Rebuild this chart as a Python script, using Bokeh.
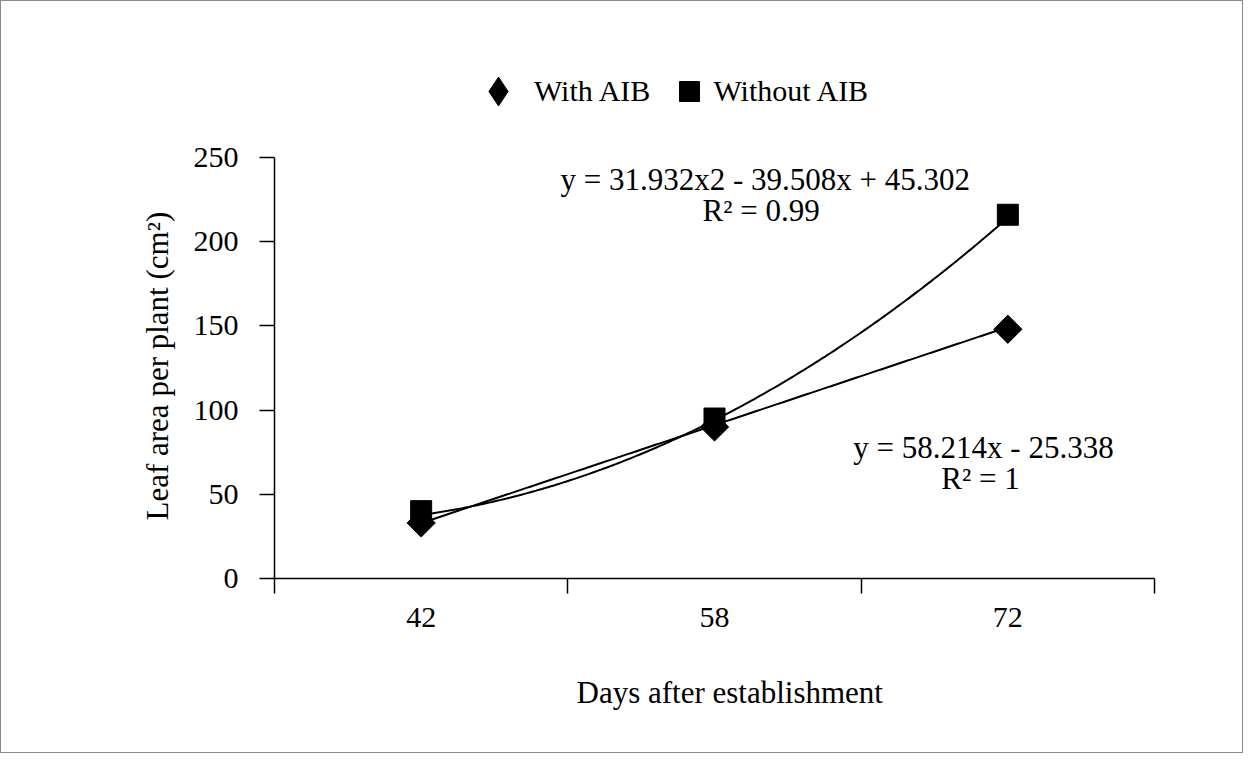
import numpy as np
from bokeh.plotting import figure
from bokeh.models import Range1d, FixedTicker, Legend, LegendItem, Label, Title
from bokeh.embed import file_html
from bokeh.resources import INLINE

# ---- data ----
categories = ["42", "58", "72"]
with_aib = [33, 90, 148]
without_aib = [40, 95, 216]
lin_coef = [58.214, -25.338]              # y = 58.214x - 25.338
quad_coef = [31.932, -39.508, 45.302]     # y = 31.932x2 - 39.508x + 45.302
y_ticks = [0, 50, 100, 150, 200, 250]
eq_with = ["y = 58.214x - 25.338", "R² = 1"]
eq_without = ["y = 31.932x2 - 39.508x + 45.302", "R² = 0.99"]
x_title = "Days after establishment"
y_title = "Leaf area per plant (cm²)"

xpos = list(range(1, len(categories) + 1))
FONT = "Liberation Serif"

Y_MAX_AXIS = 250
FRAME_H = 530          # frame extended upward to host the legend
AXIS_H = 421           # pixel height of the 0-250 axis
y_top = Y_MAX_AXIS * FRAME_H / AXIS_H

p = figure(width=1243, height=753, output_backend="svg", toolbar_location=None,
           x_range=Range1d(0.5, len(categories) + 0.5), y_range=Range1d(0, y_top),
           min_border_left=273, min_border_right=90, min_border_top=47,
           min_border_bottom=176)
p.styles = {"border": "1px solid #8a8a8a"}
p.outline_line_color = None
p.grid.visible = False
p.background_fill_color = "white"
p.border_fill_color = "white"

# trendlines
xs = np.linspace(1, len(categories), 200)
p.line(xs, np.polyval(quad_coef, xs), line_color="black", line_width=2)
p.line(xs, np.polyval(lin_coef, xs), line_color="black", line_width=2)

# markers
p.scatter(xpos, with_aib, marker="square", size=20, angle=np.pi / 4,
          color="black")
p.scatter(xpos, without_aib, marker="square", size=21, color="black")

# legend proxies (single NaN point: invisible in the plot, drawn in legend)
r_d = p.scatter([np.nan], [np.nan], marker="diamond", color="black")
r_s = p.scatter([np.nan], [np.nan], marker="square", color="black")

def mk_legend(item, r, gsize, loc):
    lg = Legend(items=[LegendItem(label=item, renderers=[r])],
                location=loc, orientation="horizontal",
                glyph_width=gsize, glyph_height=gsize,
                label_standoff=0, padding=0, margin=0, spacing=0,
                label_text_font=FONT, label_text_font_size="30px",
                label_text_color="black",
                background_fill_alpha=0, border_line_alpha=0)
    p.add_layout(lg)

mk_legend("With AIB", r_d, 72, (188, 451))
mk_legend("Without AIB", r_s, 50, (389.5, 462))

# axes
xa = p.xaxis[0]
xa.ticker = FixedTicker(ticks=xpos, minor_ticks=[i + 0.5 for i in range(len(categories) + 1)])
xa.major_label_overrides = {i + 1: c for i, c in enumerate(categories)}
xa.major_tick_out = 0
xa.major_tick_in = 0
xa.minor_tick_out = 15
xa.minor_tick_in = 0
xa.major_label_standoff = 14

ya = p.yaxis[0]
ya.bounds = (0, Y_MAX_AXIS)
ya.ticker = FixedTicker(ticks=y_ticks)
ya.major_tick_out = 15
ya.major_tick_in = 0
ya.minor_tick_out = 0
ya.minor_tick_in = 0
ya.major_label_standoff = 21

for ax in (xa, ya):
    ax.axis_line_color = "black"
    ax.axis_line_width = 1.5
    ax.major_tick_line_color = "black"
    ax.major_tick_line_width = 1.5
    ax.minor_tick_line_color = "black"
    ax.minor_tick_line_width = 1.5
    ax.major_label_text_font = FONT
    ax.major_label_text_font_size = "30px"
    ax.major_label_text_color = "black"

# axis titles (as side titles so they can be placed like the original)
p.add_layout(Title(text=y_title, align="left", offset=58, vertical_align="middle",
                   standoff=30, text_font=FONT, text_font_size="31px",
                   text_font_style="normal", text_color="black"), "left")
p.add_layout(Title(text=x_title, align="left", offset=302, vertical_align="middle",
                   standoff=88, text_font=FONT, text_font_size="31px",
                   text_font_style="normal", text_color="black"), "below")

# equation labels
def lab(x, y, t):
    p.add_layout(Label(x=x, y=y, text=t, text_align="center",
                       text_baseline="middle", text_font=FONT,
                       text_font_size="31px", text_color="black"))

lab(2.173, 236.9, eq_without[0])
lab(2.159, 218.5, eq_without[1])
lab(2.917, 77.8, eq_with[0])
lab(2.907, 59.4, eq_with[1])

open("out.html", "w").write(file_html(p, INLINE))
